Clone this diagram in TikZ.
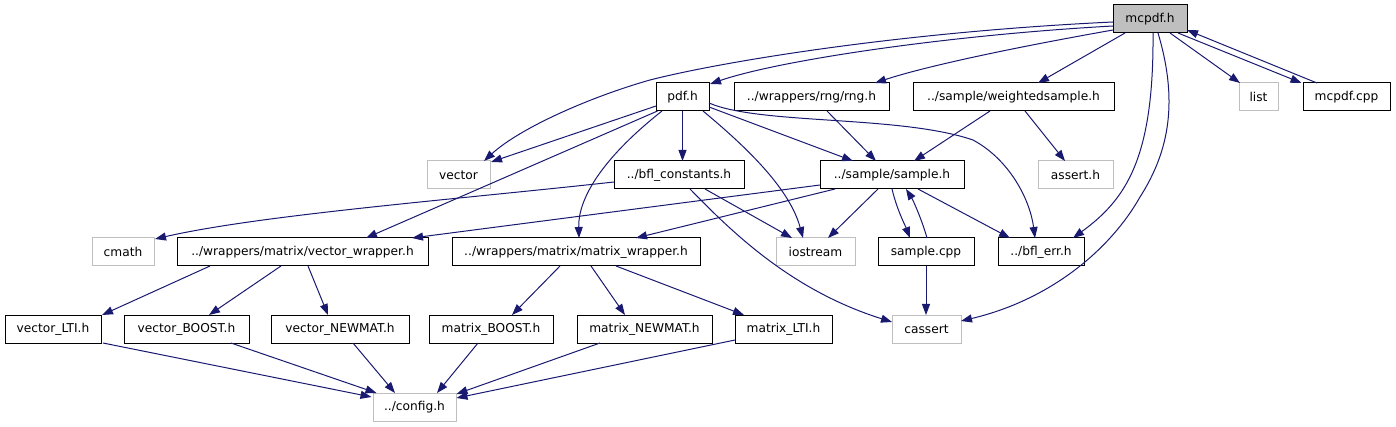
\documentclass[tikz,border=0pt]{standalone}
\usepackage{fontspec}
\setmainfont{DejaVu Sans}
\usetikzlibrary{arrows.meta,calc}
\definecolor{edgeblue}{RGB}{25,25,112}
\definecolor{sysgray}{RGB}{191,191,191}
\definecolor{rootfill}{RGB}{191,191,191}
\tikzset{
  hdr/.style={draw=black, line width=1pt, minimum height=28pt, inner sep=0pt,
    font=\fontsize{12.2pt}{14pt}\selectfont, fill=white},
  sys/.style={hdr, draw=sysgray},
  root/.style={hdr, fill=rootfill},
  dep/.style={draw=edgeblue, line width=1pt, -{Triangle[length=11pt,width=8pt]}}
}
\begin{document}
\begin{tikzpicture}[x=1pt,y=-1pt]
\useasboundingbox (0,0) rectangle (1396,427);
% row 0
\node[root, minimum width=74pt] (mcpdf) at (1150,19) {mcpdf.h};
% row 1
\node[hdr, minimum width=53pt] (pdf) at (682.5,97) {pdf.h};
\node[hdr, minimum width=155pt] (rng) at (811.5,97) {../wrappers/rng/rng.h};
\node[hdr, minimum width=201pt] (wsample) at (1013.5,97) {../sample/weightedsample.h};
\node[sys, minimum width=39pt] (list) at (1258.5,97) {list};
\node[hdr, minimum width=87pt] (mcpdfcpp) at (1346.5,97) {mcpdf.cpp};
% row 2
\node[sys, minimum width=63pt] (vector) at (458.5,175) {vector};
\node[hdr, minimum width=130pt] (bflc) at (679,175) {../bfl\_constants.h};
\node[hdr, minimum width=144pt] (sample) at (892,175) {../sample/sample.h};
\node[sys, minimum width=75pt] (asserth) at (1075.5,175) {assert.h};
% row 3
\node[sys, minimum width=62pt] (cmath) at (123,252) {cmath};
\node[hdr, minimum width=251pt] (vwrap) at (302.5,252) {../wrappers/matrix/vector\_wrapper.h};
\node[hdr, minimum width=248pt] (mwrap) at (576,252) {../wrappers/matrix/matrix\_wrapper.h};
\node[sys, minimum width=79pt] (iostream) at (815.5,252) {iostream};
\node[hdr, minimum width=96pt] (samplecpp) at (926,252) {sample.cpp};
\node[hdr, minimum width=86pt] (bflerr) at (1041,252) {../bfl\_err.h};
% row 4
\node[hdr, minimum width=96pt] (vLTI) at (53,329) {vector\_LTI.h};
\node[hdr, minimum width=125pt] (vBOOST) at (186.5,329) {vector\_BOOST.h};
\node[hdr, minimum width=138pt] (vNEWMAT) at (340,329) {vector\_NEWMAT.h};
\node[hdr, minimum width=124pt] (mBOOST) at (491,329) {matrix\_BOOST.h};
\node[hdr, minimum width=135pt] (mNEWMAT) at (644.5,329) {matrix\_NEWMAT.h};
\node[hdr, minimum width=97pt] (mLTI) at (783.5,329) {matrix\_LTI.h};
\node[sys, minimum width=69pt] (cassert) at (926.5,329) {cassert};
% row 5
\node[sys, minimum width=83pt] (config) at (414.5,407) {../config.h};

% edges from mcpdf.h
\draw[dep] ($(mcpdf)+(-37,7)$) .. controls (950,35) and (780,60) .. ($(pdf)+(27.5,-13)$);
\draw[dep] ($(mcpdf)+(-37,3)$) .. controls (900,32) and (720,62) .. (650,80)
   .. controls (590,97) and (520,128) .. ($(vector)+(25.5,-14)$);
\draw[dep] ($(mcpdf)+(-37,11)$) .. controls (1000,50) and (920,68) .. ($(rng)+(63.5,-14)$);
\draw[dep] ($(mcpdf)+(-25,14)$) -- ($(wsample)+(24.5,-14)$);
\draw[dep] ($(mcpdf)+(20,14)$) -- ($(list)+(-18.5,-14)$);
\draw[dep] ($(mcpdf)+(28,14)$) -- ($(mcpdfcpp)+(-45,-14)$);
\draw[dep] ($(mcpdfcpp)+(-29.5,-14)$) -- ($(mcpdf)+(37,11)$);
\draw[dep] ($(mcpdf)+(3,14)$) .. controls (1154,160) and (1125,200) .. ($(bflerr)+(32,-14)$);
\draw[dep] ($(mcpdf)+(8,14)$) .. controls (1178,100) and (1170,150) .. (1140,197)
   .. controls (1110,250) and (1050,300) .. ($(cassert)+(34.5,-8)$);
% edges from pdf.h
\draw[dep] ($(pdf)+(-26.5,9)$) -- ($(vector)+(32.5,-13)$);
\draw[dep] ($(pdf)+(-25,14)$) -- ($(vwrap)+(63.5,-14)$);
\draw[dep] ($(pdf)+(-20.5,14)$) .. controls (600,160) and (578,200) .. ($(mwrap)+(3,-14)$);
\draw[dep] ($(pdf)+(0,14)$) -- ($(bflc)+(3.5,-14)$);
\draw[dep] ($(pdf)+(20.5,14)$) .. controls (750,150) and (790,190) .. ($(iostream)+(-12.5,-14)$);
\draw[dep] ($(pdf)+(26.5,10)$) -- ($(sample)+(-39,-14)$);
\draw[dep] ($(pdf)+(26.5,6)$) .. controls (760,125) and (900,115) .. (973,140)
   .. controls (1010,160) and (1030,200) .. ($(bflerr)+(-6,-14)$);
% rng / weightedsample
\draw[dep] ($(rng)+(15.5,14)$) -- ($(sample)+(-16,-14)$);
\draw[dep] ($(wsample)+(-23.5,14)$) -- ($(sample)+(22,-14)$);
\draw[dep] ($(wsample)+(11.5,14)$) -- ($(asserth)+(-10.5,-14)$);
% bfl_constants
\draw[dep] ($(bflc)+(-65,7)$) .. controls (450,200) and (260,215) .. ($(cmath)+(32,-13)$);
\draw[dep] ($(bflc)+(26,14)$) -- ($(iostream)+(-23.5,-14)$);
\draw[dep] ($(bflc)+(11,14)$) .. controls (730,230) and (790,290) .. ($(cassert)+(-34.5,-7)$);
% sample.h
\draw[dep] ($(sample)+(-72,10)$) -- ($(vwrap)+(109.5,-14)$);
\draw[dep] ($(sample)+(-57,14)$) -- ($(mwrap)+(60,-14)$);
\draw[dep] ($(sample)+(-14,14)$) -- ($(iostream)+(12.5,-14)$);
\draw[dep] ($(sample)+(0,14)$) .. controls (897,210) and (905,225) .. ($(samplecpp)+(-16,-14)$);
\draw[dep] ($(samplecpp)+(1,-14)$) .. controls (922,220) and (913,200) .. ($(sample)+(14,14)$);
\draw[dep] ($(sample)+(26,14)$) -- ($(bflerr)+(-31,-14)$);
\draw[dep] ($(samplecpp)+(0,14)$) -- ($(cassert)+(-0.5,-14)$);
% wrappers
\draw[dep] ($(vwrap)+(-92.5,14)$) -- ($(vLTI)+(49,-14)$);
\draw[dep] ($(vwrap)+(-21.5,14)$) -- ($(vBOOST)+(22.5,-14)$);
\draw[dep] ($(vwrap)+(5.5,14)$) -- ($(vNEWMAT)+(-12,-14)$);
\draw[dep] ($(mwrap)+(-16,14)$) -- ($(mBOOST)+(21,-14)$);
\draw[dep] ($(mwrap)+(15,14)$) -- ($(mNEWMAT)+(-19.5,-14)$);
\draw[dep] ($(mwrap)+(40,14)$) -- ($(mLTI)+(-39.5,-14)$);
% to config.h
\draw[dep] ($(vLTI)+(50,14)$) -- ($(config)+(-43,-10)$);
\draw[dep] ($(vBOOST)+(44.5,14)$) -- ($(config)+(-38,-14)$);
\draw[dep] ($(vNEWMAT)+(13,14)$) -- ($(config)+(-19.5,-14)$);
\draw[dep] ($(mBOOST)+(-13,14)$) -- ($(config)+(22.5,-14)$);
\draw[dep] ($(mNEWMAT)+(-44.5,14)$) -- ($(config)+(42,-13)$);
\draw[dep] ($(mLTI)+(-48.5,11)$) -- ($(config)+(42,-9)$);
\end{tikzpicture}
\end{document}
